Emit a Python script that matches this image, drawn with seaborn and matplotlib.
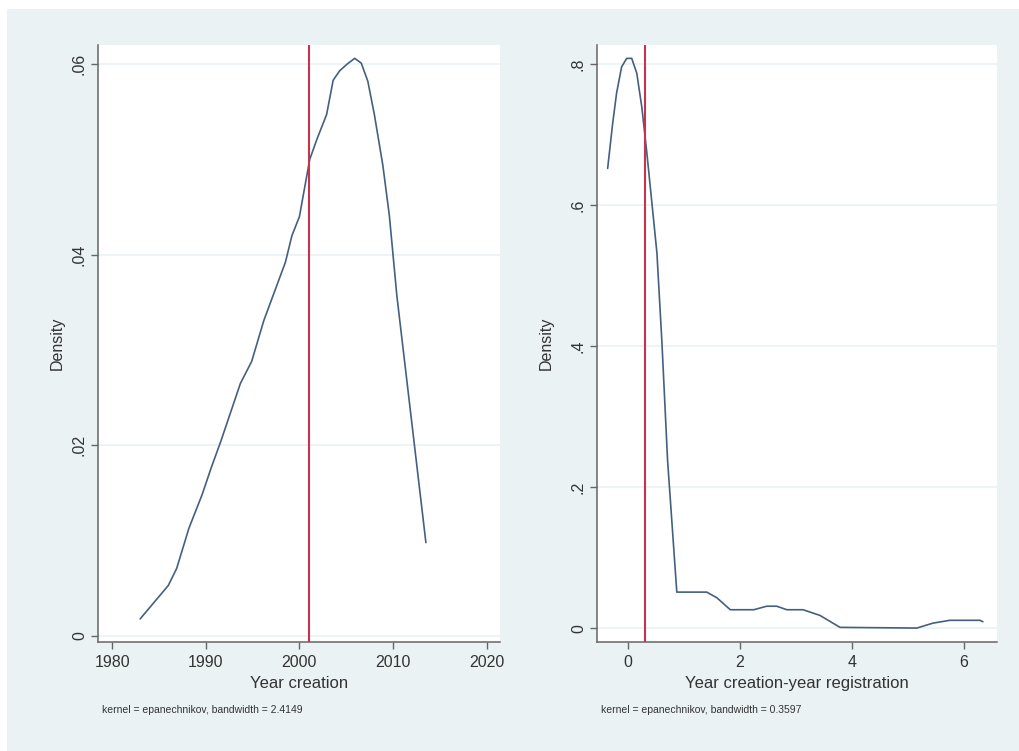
import matplotlib
matplotlib.use("Agg")
import matplotlib.pyplot as plt
import seaborn as sns
import pandas as pd
from matplotlib.patches import Rectangle

# left panel: kernel density of year of creation
year_x = [1983.0, 1986.0, 1986.9, 1988.2, 1989.6, 1990.6, 1991.6, 1992.7, 1993.7,
          1994.9, 1996.2, 1998.5, 1999.2, 2000.0, 2001.1, 2001.9, 2002.9, 2003.6,
          2004.3, 2005.1, 2005.9, 2006.6, 2007.3, 2008.0, 2008.9, 2009.6, 2010.4,
          2013.5]
year_d = [0.0018, 0.0053, 0.0071, 0.0113, 0.0148, 0.0177, 0.0204, 0.0236, 0.0265,
          0.0288, 0.0331, 0.0392, 0.0420, 0.0440, 0.0500, 0.0522, 0.0547, 0.0583,
          0.0593, 0.0600, 0.0606, 0.0601, 0.0582, 0.0547, 0.0494, 0.0441, 0.0357,
          0.0098]
year_ref = 2001.0
year_note = "kernel = epanechnikov, bandwidth = 2.4149"

# right panel: kernel density of creation minus registration year
gap_x = [-0.36, -0.27, -0.20, -0.11, -0.02, 0.07, 0.16, 0.25, 0.34, 0.43, 0.52,
         0.61, 0.71, 0.875, 1.41, 1.59, 1.83, 2.25, 2.48, 2.66, 2.84, 3.13, 3.43,
         3.79, 5.16, 5.45, 5.75, 6.29, 6.34]
gap_d = [0.652, 0.716, 0.759, 0.796, 0.808, 0.808, 0.787, 0.739, 0.674, 0.603, 0.532,
         0.404, 0.238, 0.051, 0.051, 0.043, 0.026, 0.026, 0.031, 0.031, 0.026, 0.026,
         0.018, 0.001, 0.000, 0.007, 0.011, 0.011, 0.009]
gap_ref = 0.31
gap_note = "kernel = epanechnikov, bandwidth = 0.3597"

year_xticks = [1980, 1990, 2000, 2010, 2020]
year_yticks = [0, 0.02, 0.04, 0.06]
year_ylabels = ["0", ".02", ".04", ".06"]
gap_xticks = [0, 2, 4, 6]
gap_yticks = [0, 0.2, 0.4, 0.6, 0.8]
gap_ylabels = ["0", ".2", ".4", ".6", ".8"]

sns.set_style("white")
plt.rcParams['font.family'] = ['Liberation Sans', 'DejaVu Sans']

bg = "#eaf2f3"
line_col = "#44607f"
ref_col = "#c8324e"
txt = "#333333"

fig = plt.figure(figsize=(10.2, 7.51), dpi=100)
fig.patch.set_facecolor("white")
fig.patches.append(Rectangle((7 / 1020, 0), 1, 1 - 9 / 751, transform=fig.transFigure,
                             facecolor=bg, edgecolor="none", zorder=-10))

ax1 = fig.add_axes([0.0961, 0.1451, 0.394, 0.795])
ax2 = fig.add_axes([0.5853, 0.1451, 0.392, 0.795])

panels = [
    (ax1, year_x, year_d, year_ref, year_xticks, year_yticks, year_ylabels,
     (1978.5, 2021.4), (-0.00063, 0.062), "Year creation", year_note, 5),
    (ax2, gap_x, gap_d, gap_ref, gap_xticks, gap_yticks, gap_ylabels,
     (-0.55, 6.59), (-0.0198, 0.827), "Year creation-year registration", gap_note, 12),
]

for ax, xs, ds, ref, xt, yt, yl, xlim, ylim, xlabel, note, ypad in panels:
    df = pd.DataFrame({"x": xs, "d": ds})
    ax.set_facecolor("white")
    for v in yt:
        ax.axhline(v, color=bg, lw=1.2, zorder=0)
    sns.lineplot(data=df, x="x", y="d", ax=ax, color=line_col, lw=1.2, zorder=3)
    ax.axvline(ref, color=ref_col, lw=1.5, zorder=4)
    ax.set_xlim(*xlim)
    ax.set_ylim(*ylim)
    ax.set_xticks(xt)
    ax.set_xticklabels([str(v) for v in xt], fontsize=11.5, color=txt)
    ax.set_yticks(yt)
    ax.set_yticklabels(yl, fontsize=11.5, color=txt, rotation=90, va="center")
    ax.tick_params(axis="both", direction="out", length=5, width=1, color="#666666",
                   left=True, bottom=True, pad=4)
    ax.tick_params(axis="y", pad=3)
    for s in ["top", "right"]:
        ax.spines[s].set_visible(False)
    for s in ["left", "bottom"]:
        ax.spines[s].set_color("#666666")
        ax.spines[s].set_linewidth(1.1)
    ax.set_ylabel("Density", fontsize=11.5, color=txt, labelpad=ypad)
    ax.set_xlabel(xlabel, fontsize=12, color=txt, labelpad=5)
    ax.text(0.01, -0.114, note, transform=ax.transAxes, fontsize=7.5, color=txt,
            ha="left", va="center")

fig.savefig("out.png", dpi=100, facecolor=fig.get_facecolor())
